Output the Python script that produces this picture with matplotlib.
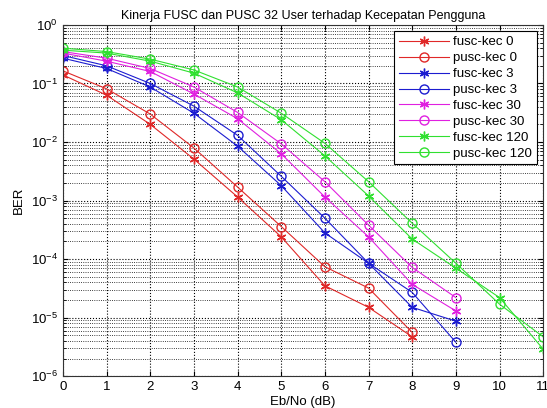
import numpy as np
import matplotlib
matplotlib.use('Agg')
import matplotlib.pyplot as plt

plt.rcParams['font.family'] = ['Liberation Sans', 'DejaVu Sans']

# Eb/No values (dB)
ebno_8 = np.arange(0, 9)
ebno_10 = np.arange(0, 10)
ebno_12 = np.arange(0, 12)

# BER
fusc_0 = [0.14, 0.063, 0.020, 0.0051, 0.00115, 2.4e-4, 3.5e-5, 1.5e-5, 4.7e-6]
pusc_0 = [0.164, 0.081, 0.030, 0.0079, 0.0017, 3.6e-4, 7.4e-5, 3.2e-5, 5.6e-6]
fusc_3 = [0.27, 0.18, 0.087, 0.031, 0.0085, 0.0018, 2.8e-4, 8.5e-5, 1.5e-5, 8.7e-6]
pusc_3 = [0.30, 0.20, 0.10, 0.041, 0.013, 0.0026, 5.0e-4, 8.5e-5, 2.7e-5, 3.8e-6]
fusc_30 = [0.33, 0.24, 0.16, 0.066, 0.025, 0.0063, 0.00115, 2.4e-4, 3.7e-5, 1.3e-5]
pusc_30 = [0.35, 0.27, 0.18, 0.087, 0.032, 0.0093, 0.0021, 3.8e-4, 7.2e-5, 2.2e-5]
fusc_120 = [0.37, 0.33, 0.24, 0.15, 0.069, 0.024, 0.0058, 0.0012, 2.2e-4, 7.0e-5, 2.2e-5, 2.9e-6]
pusc_120 = [0.40, 0.35, 0.26, 0.17, 0.087, 0.031, 0.0095, 0.0021, 4.1e-4, 8.5e-5, 1.7e-5, 4.7e-6]

red = '#e02828'
blue = '#1c1cd0'
mag = '#e020e0'
green = '#30e030'

star = (6, 2, 0)  # matlab style asterisk

fig = plt.figure(figsize=(5.47, 4.08), dpi=100)
ax = fig.add_axes([0.115, 0.078, 0.878, 0.861])

lw = 0.8
ms_s = 7
ms_o = 6.5
ax.semilogy(ebno_8, fusc_0, '-', marker=star, color=red, lw=lw, ms=ms_s, label='fusc-kec 0')
ax.semilogy(ebno_8, pusc_0, '-o', color=red, lw=lw, ms=ms_o, mfc='none', label='pusc-kec 0')
ax.semilogy(ebno_10, fusc_3, '-', marker=star, color=blue, lw=lw, ms=ms_s, label='fusc-kec 3')
ax.semilogy(ebno_10, pusc_3, '-o', color=blue, lw=lw, ms=ms_o, mfc='none', label='pusc-kec 3')
ax.semilogy(ebno_10, fusc_30, '-', marker=star, color=mag, lw=lw, ms=ms_s, label='fusc-kec 30')
ax.semilogy(ebno_10, pusc_30, '-o', color=mag, lw=lw, ms=ms_o, mfc='none', label='pusc-kec 30')
ax.semilogy(ebno_12, fusc_120, '-', marker=star, color=green, lw=lw, ms=ms_s, label='fusc-kec 120')
ax.semilogy(ebno_12, pusc_120, '-o', color=green, lw=lw, ms=ms_o, mfc='none', label='pusc-kec 120')

ax.set_xlim(0, 11)
ax.set_ylim(1e-6, 1)
ax.set_xticks(range(0, 12))
ax.grid(True, which='major', linestyle=':', color='k', lw=0.8)
ax.grid(True, which='minor', linestyle=':', color='k', lw=0.6)
ax.tick_params(which='both', direction='in', top=True, right=True, labelsize=9.5)
for s in ax.spines.values():
    s.set_color('#333333')

ax.set_title('Kinerja FUSC dan PUSC 32 User terhadap Kecepatan Pengguna', fontsize=9, pad=4)
ax.set_xlabel('Eb/No (dB)', fontsize=9.5, labelpad=2)
ax.set_ylabel('BER', fontsize=9.5)

leg = ax.legend(loc='upper right', fontsize=9.5, fancybox=False, framealpha=1,
                edgecolor='k', handlelength=3.8, borderpad=0.35, labelspacing=0.28,
                borderaxespad=0.5, handletextpad=0.3)
leg.get_frame().set_linewidth(0.8)

fig.savefig('out.png', dpi=100)
